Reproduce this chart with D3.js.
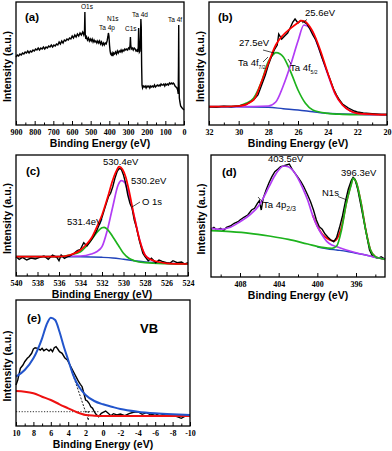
<!DOCTYPE html>
<html>
<head>
<meta charset="utf-8">
<script src="https://cdnjs.cloudflare.com/ajax/libs/d3/7.8.5/d3.min.js"></script>
<style>
body{margin:0;background:#fff;}
svg{display:block;font-family:"Liberation Sans",Arial,sans-serif;}
.frame{fill:none;stroke:#000;stroke-width:1.3;}
.axis path{display:none;}
.axis line{stroke:#000;stroke-width:1;}
.axis text{font-family:"Liberation Serif","Times New Roman",serif;font-weight:bold;font-size:8px;fill:#000;}
.xtitle,.ytitle{font-weight:bold;font-size:10.5px;text-anchor:middle;}
.plabel{font-weight:bold;font-size:11.5px;}
.note{font-size:9.5px;}
.small{font-size:6.5px;}
.vb{font-weight:bold;font-size:13px;}
.ptr{stroke:#000;stroke-width:0.7;}
.raw{fill:none;stroke:#000;stroke-width:1.4;}
.fit{fill:none;stroke:#ff0000;stroke-width:1.7;}
.green{fill:none;stroke:#1db31d;stroke-width:1.7;}
.mag{fill:none;stroke:#b23cf5;stroke-width:1.7;}
.bg{fill:none;stroke:#2244bb;stroke-width:1.4;}
.vbfit{fill:none;stroke:#2255cc;stroke-width:2;}
.vbbg{fill:none;stroke:#ee1111;stroke-width:2;}
.dots{fill:none;stroke:#333;stroke-width:1;stroke-dasharray:1.2,1.6;}
.dash{fill:none;stroke:#222;stroke-width:1;stroke-dasharray:2,1.5;}
</style>
</head>
<body>
<svg width="392" height="451"></svg>
<script>
// (a) survey
var surveyData = [
[900,68],[893,70],[886,69],[879,71],[872,70],[865,72],[858,71],[851,73],[844,72],[837,74],[830,72],[823,74],[816,73],[809,75],[802,74],[795,76],[788,75],[781,77],[774,75],[767,77],[760,76],[753,78],[746,76],[739,78],[732,77],[725,79],[718,78],[711,80],[704,78],[697,80],[690,79],[683,81],[676,80],[669,83],[662,81],[655,84],[648,82],[641,85],[634,84],[627,86],[620,85],[613,87],[606,86],[599,89],[592,87],[585,90],[578,88],[571,91],[564,89],[557,92],[550,90],[543,93],[537,90],[533,94],[531,113],[529,91],[526,86],[522,88],[517,85],[512,87],[507,84],[502,86],[497,84],[492,86],[487,83],[482,85],[477,83],[472,84],[467,82],[462,84],[457,82],[452,84],[447,81],[442,83],[437,80],[432,82],[427,80],[422,82],[417,81],[412,84],[408,88],[405,92],[402,89],[399,80],[396,74],[393,71],[389,70],[385,72],[381,69],[377,72],[372,71],[367,73],[362,71],[357,74],[352,72],[347,74],[342,73],[337,75],[332,73],[327,75],[322,74],[317,76],[312,75],[307,76],[302,75],[297,77],[292,76],[289,80],[287,88],[285,80],[282,76],[277,77],[272,75],[267,77],[262,76],[257,74],[252,75],[248,73],[245,78],[243,97],[241,80],[239,73],[236,74],[233,88],[231,106],[229,98],[227,60],[225,40],[222,37],[218,39],[213,38],[208,39],[203,37],[198,39],[193,38],[188,39],[183,37],[178,39],[173,38],[168,39],[163,38],[158,40],[153,38],[148,39],[143,40],[138,39],[133,40],[128,39],[123,41],[118,40],[113,40],[108,41],[103,39],[98,41],[93,40],[88,41],[83,40],[78,42],[73,41],[68,42],[63,41],[58,42],[53,41],[48,39],[43,38],[38,37],[34,35],[31,31],[29.5,60],[28.3,100],[27,45],[25,27],[22,23],[18,19],[14,18],[10,17],[5,16],[0,15]
];
var surveyMajor = [900,800,700,600,500,400,300,200,100,0];
var surveyMinor = [850,750,650,550,450,350,250,150,50];

// (b) Ta 4f
var ta4fRaw = [[32,18.3],[31.5,18],[31,18.7],[30.5,18.3],[30,19],[29.5,20.5],[29,25],[28.7,30],[28.5,38],[28.2,50],[28,60],[27.8,68],[27.6,75],[27.4,80],[27.3,91],[27.1,86],[26.9,89],[26.7,92],[26.5,98],[26.35,103],[26.2,106],[26,102],[25.8,104.5],[25.6,103],[25.4,101],[25.2,96],[25,90],[24.8,85],[24.6,77],[24.4,68],[24.2,60],[24,52],[23.8,44],[23.6,36],[23.4,30],[23.2,25],[23,21],[22.6,17],[22.2,14],[22,13],[21.6,12],[21.2,11.5],[20.8,11],[20.4,10.5],[20,10.5]];
var ta4fFit = [[32,18.3],[30,19],[29,25],[28.5,41.7],[28,61.7],[27.5,80],[27,90],[26.5,96.7],[26,102.3],[25.8,104.3],[25.5,103.3],[25.2,98.3],[25,93.3],[24.5,75],[24,52.3],[23.5,31.7],[23,20],[22.5,14.3],[22,11.7],[20,10.3]];
var ta4f72 = [[32,18.3],[30,19],[29.5,21.7],[29,26.7],[28.5,41.7],[28,63.3],[27.7,70],[27.5,72.3],[27.2,71],[27,68.3],[26.5,53.3],[26,35],[25.5,21.7],[25,15],[24,11.7],[23,10.7],[22,10.3],[20,10.3]];
var ta4f52 = [[32,18.3],[30,18.3],[28,19],[27.5,23],[27,39],[26.5,60],[26,84],[25.6,100],[25.2,97],[25,92],[24.5,73],[24,51],[23.5,31],[23,20],[22.5,14.3],[22,11.7],[21,10.3],[20,10.3]];
var ta4fBg = [[32,18.3],[30,18.3],[28,17.7],[27,16.3],[26,15],[25,13.3],[24,11.7],[23,11],[22,10.7],[20,10.3]];
var ta4fMajor = [32,30,28,26,24,22,20];
var ta4fMinor = [31,29,27,25,23,21];

// (c) O 1s
var o1sRaw = [[540,19.3],[539.7,16.7],[539.4,18.7],[539,16],[538.6,18],[538.2,17],[537.8,18.7],[537.4,20],[537,16.7],[536.6,21],[536.2,18.7],[536,15.3],[535.8,21],[535.5,17.7],[535.2,19.3],[535,20],[534.6,22.7],[534.3,25.3],[534,26.7],[533.7,33.3],[533.4,30],[533.1,34.3],[532.8,39.3],[532.5,45.3],[532.2,52.7],[532,58.7],[531.7,69.3],[531.4,79.3],[531.2,82.7],[531,89.3],[530.8,97.7],[530.6,104.3],[530.4,107.7],[530.2,106.7],[530,101],[529.8,92.7],[529.6,81],[529.4,72.7],[529.2,67.7],[529,56],[528.8,48.7],[528.5,34.3],[528.2,22.7],[528,19.3],[527.7,15.3],[527.4,17.7],[527,13.3],[526.7,16],[526.4,14.7],[526,13.3],[525.7,12.7],[525.4,15.3],[525,13.3],[524.6,14],[524.3,12],[524,13.3]];
var o1sFit = [[540,19.3],[536,19.3],[535,21],[534,26],[533.5,31],[533,37.7],[532.5,48.7],[532,61],[531.5,77.7],[531,96],[530.7,104.3],[530.4,109.3],[530.1,106.7],[529.8,99.3],[529.5,86],[529,59.3],[528.5,36],[528,21],[527.5,16.7],[527,14.7],[526,12.7],[524,12]];
var o1sLow = [[540,19.3],[536,19.3],[535,21],[534,24.3],[533.5,29.3],[533,36],[532.5,43.3],[532,48.3],[531.8,48.7],[531.5,46.7],[531,39.3],[530.5,31],[530,22.7],[529.5,17.7],[529,15.3],[528,13.3],[526,12.3],[524,12]];
var o1sMain = [[540,19.3],[534,20],[533,22],[532.5,24.3],[532,29.3],[531.5,46],[531,69.3],[530.5,91],[530.2,95.3],[529.9,93.7],[529.5,81],[529,59.3],[528.5,36],[528,21],[527.5,16.7],[527,14.3],[526,12.7],[524,12]];
var o1sBg = [[540,19.3],[536,19.3],[534,19.3],[532,18.7],[531,18],[530,16.7],[529,15.3],[528,14],[526,12.7],[524,12]];
var o1sMajor = [540,538,536,534,532,530,528,526,524];
var o1sMinor = [539,537,535,533,531,529,527,525];

// (d) Ta 4p / N 1s
var n1sRaw = [[411,47.7],[410.7,49.7],[410.4,47],[410,48.7],[409.7,46.3],[409.4,49.7],[409,51],[408.6,53.7],[408.2,55.3],[408,57],[407.6,59.7],[407.2,62],[406.8,67],[406.5,68.7],[406.2,73.7],[406,76.3],[405.8,67],[405.6,78.7],[405.3,87],[405,94.3],[404.7,100.3],[404.4,105.3],[404.1,107.7],[403.8,110.3],[403.5,111],[403.2,112],[402.9,113],[402.6,107.7],[402.3,103.7],[402,99.7],[401.7,95.3],[401.4,90.3],[401,82],[400.7,75.3],[400.4,67],[400.1,57],[399.8,50.3],[399.5,47.7],[399.2,43],[398.9,39.7],[398.6,37],[398.3,35.3],[398,39.7],[397.7,49.7],[397.4,61],[397.1,75.3],[396.8,87.7],[396.5,96.3],[396.3,99.7],[396.1,97.7],[395.8,87],[395.5,72],[395.2,57],[394.9,42],[394.6,27],[394.3,21],[394,19.7],[393.7,18.7],[393.4,20.3],[393.1,18.3],[393,17.7]];
var n1sFit = [[400.5,62],[400,51],[399.5,43],[399,38.7],[398.5,36.3],[398.2,36],[398,37.7],[397.7,43.7],[397.5,49.7],[397,73.7],[396.5,93],[396.3,98.7],[396,95.3],[395.5,75.3],[395,47.7],[394.5,27],[394,20.3],[393.5,18.7],[393,17.7]];
var n1sPeak = [[411,46.3],[409,45.3],[407,43.7],[405,41],[403,37.7],[401,33],[399.5,29.7],[398.5,28.7],[398,31],[397.5,47],[397,73.7],[396.5,92],[396.3,98.7],[396,95.3],[395.5,75.3],[395,47],[394.5,27],[394,20.3],[393.5,18.7],[393,17.7]];
var ta4pPeak = [[411,48.7],[410,47.7],[409,49.7],[408,55.3],[407,62],[406,72],[405,90.3],[404.5,99.7],[404,107],[403.5,111],[403,110.3],[402.5,106.3],[402,98.7],[401.5,88.7],[401,77],[400.5,62],[400,50.3],[399.5,42],[399,35.3],[398.5,32],[398,30.3],[397,27],[396,24.3],[395,22],[394,19.7],[393,17.7]];
var n1sBg = [[400,30],[399,28.3],[398,27],[397,25.7],[396,23.7],[395,22],[394,19.7],[393,18]];
var n1sMajor = [408,404,400,396];
var n1sMinor = [410,406,402,398,394];

// (e) valence band
var vbRaw = [[10,41],[9.8,46],[9.5,57.7],[9.2,61],[9,64.3],[8.7,67.7],[8.5,69.3],[8.2,72.7],[8,77],[7.8,78.3],[7.5,77.7],[7.2,76],[7,77.7],[6.8,75.3],[6.5,77],[6.2,75],[6,76.7],[5.8,74.3],[5.6,78.3],[5.4,79.3],[5.2,77],[5,74.3],[4.7,72.7],[4.4,68.3],[4.1,66],[3.8,61],[3.5,56],[3.2,51],[3,47.7],[2.8,44.3],[2.6,41.7],[2.4,39.3],[2.2,32.7],[2,26],[1.8,25],[1.6,22.7],[1.4,19.3],[1.2,17.7],[1,14.3],[0.8,11.7],[0.5,9.3],[0.2,12.7],[0,13.7],[-0.3,15],[-0.6,12.7],[-0.9,10.3],[-1.2,12.3],[-1.6,11],[-2,12],[-2.5,10.3],[-3,12.3],[-3.5,13.7],[-4,14.3],[-4.5,11.7],[-5,13.3],[-5.5,11],[-6,12.3],[-6.5,10.3],[-7,11.7],[-7.5,9.7],[-8,11],[-8.5,9.3],[-9,7.7],[-9.5,10],[-10,10]];
var vbFit = [[10,49.3],[9,56],[8,67.7],[7,87.7],[6.5,101],[6,108.3],[5.5,106],[5,94.3],[4.5,79.3],[4,66],[3.5,52.7],[3,42.7],[2.5,36],[2,31],[1,25],[0,21.7],[-1,19.3],[-2,17],[-4,14.3],[-6,12.7],[-8,11.7],[-10,11]];
var vbBg = [[10,35],[9,34.3],[8,32.7],[7,29.3],[6,26],[5,21.7],[4,17.7],[3,13.7],[2,11],[1,10.3],[0,10],[-10,10]];
var vbBaseLine = [[10,14.3],[0.34,14.3]];
var vbEdgeLine = [[3.98,65],[1.69,6]];
var vbOnsetLine = [[1.69,15],[1.69,5]];
var vbMajor = [10,8,6,4,2,0,-2,-4,-6,-8,-10];
var vbMinor = [9,7,5,3,1,-1,-3,-5,-7,-9];

var svg = d3.select('svg');

function drawPanel(p) {
  var w = p.x1 - p.x0, h = p.y1 - p.y0;
  var g = svg.append('g').attr('transform', 'translate(' + p.x0 + ',' + p.y0 + ')');
  var x = d3.scaleLinear().domain(p.xDomain).range([0, w]);
  var y = d3.scaleLinear().domain([0, h]).range([h, 0]);

  g.append('g').attr('class', 'axis')
    .attr('transform', 'translate(0,' + h + ')')
    .call(d3.axisBottom(x).tickValues(p.minor).tickSize(-2.5).tickFormat(''));
  g.append('g').attr('class', 'axis')
    .attr('transform', 'translate(0,' + h + ')')
    .call(d3.axisBottom(x).tickValues(p.major).tickSize(-4).tickPadding(4.3)
      .tickFormat(function(d){ return String(d); }));

  var rawLine = d3.line().x(function(d){return x(d[0]);}).y(function(d){return y(d[1]);});
  var smooth = d3.line().curve(d3.curveMonotoneX).x(function(d){return x(d[0]);}).y(function(d){return y(d[1]);});

  p.series.forEach(function(s) {
    g.append('path').datum(s.data).attr('class', s.cls)
      .attr('d', s.smooth ? smooth : rawLine);
  });

  g.append('rect').attr('class', 'frame').attr('width', w).attr('height', h);

  svg.append('text').attr('class', 'xtitle')
    .attr('x', p.x0 + w / 2).attr('y', p.y1 + 21.5).text('Binding Energy (eV)');
  svg.append('text').attr('class', 'ytitle')
    .attr('transform', 'translate(' + p.yx + ',' + (p.y0 + h / 2 + 3) + ') rotate(-90)')
    .text('Intensity (a.u.)');

  p.notes.forEach(function(n) {
    var t = svg.append('text').attr('class', n.cls).attr('x', n.x).attr('y', n.y).text(n.t);
    if (n.sub) t.append('tspan').attr('font-size', n.subSize || '6.5px').attr('dy', 2.5).text(n.sub);
  });
  (p.ptrs || []).forEach(function(l) {
    svg.append('line').attr('class', 'ptr')
      .attr('x1', l[0]).attr('y1', l[1]).attr('x2', l[2]).attr('y2', l[3]);
  });
}

drawPanel({
  x0: 16, y0: 2, x1: 184, y1: 125, xDomain: [900, 0], yx: 10.5,
  major: surveyMajor, minor: surveyMinor,
  series: [{data: surveyData, cls: 'raw'}],
  notes: [
    {x: 25, y: 21, t: '(a)', cls: 'plabel'},
    {x: 81, y: 8.5, t: 'O1s', cls: 'small'},
    {x: 107, y: 20.5, t: 'N1s', cls: 'small'},
    {x: 99, y: 30, t: 'Ta 4p', cls: 'small'},
    {x: 125, y: 30.5, t: 'C1s', cls: 'small'},
    {x: 132, y: 16.5, t: 'Ta 4d', cls: 'small'},
    {x: 168, y: 22, t: 'Ta 4f', cls: 'small'}
  ]
});

drawPanel({
  x0: 209, y0: 2, x1: 387, y1: 125, xDomain: [32, 20], yx: 204,
  major: ta4fMajor, minor: ta4fMinor,
  series: [
    {data: ta4fBg, cls: 'bg', smooth: true},
    {data: ta4f72, cls: 'green', smooth: true},
    {data: ta4f52, cls: 'mag', smooth: true},
    {data: ta4fRaw, cls: 'raw'},
    {data: ta4fFit, cls: 'fit', smooth: true}
  ],
  notes: [
    {x: 218, y: 21, t: '(b)', cls: 'plabel'},
    {x: 305, y: 16, t: '25.6eV', cls: 'note'},
    {x: 239, y: 46, t: '27.5eV', cls: 'note'},
    {x: 238, y: 66, t: 'Ta 4f', cls: 'note', sub: '7/2', subSize: '5px'},
    {x: 290, y: 71, t: 'Ta 4f', cls: 'note', sub: '5/2', subSize: '5px'}
  ],
  ptrs: [[307, 19.5, 302, 23], [263, 50, 274, 53], [263, 62, 268, 57], [291, 64, 288, 59]]
});

drawPanel({
  x0: 16, y0: 155, x1: 188, y1: 276, xDomain: [540, 524], yx: 10.5,
  major: o1sMajor, minor: o1sMinor,
  series: [
    {data: o1sBg, cls: 'bg', smooth: true},
    {data: o1sMain, cls: 'mag', smooth: true},
    {data: o1sLow, cls: 'green', smooth: true},
    {data: o1sRaw, cls: 'raw'},
    {data: o1sFit, cls: 'fit', smooth: true}
  ],
  notes: [
    {x: 26, y: 175, t: '(c)', cls: 'plabel'},
    {x: 103, y: 165, t: '530.4eV', cls: 'note'},
    {x: 131, y: 184, t: '530.2eV', cls: 'note'},
    {x: 142, y: 205, t: 'O 1s', cls: 'note'},
    {x: 67, y: 225, t: '531.4eV', cls: 'note'}
  ],
  ptrs: [[132, 207, 140, 202]]
});

drawPanel({
  x0: 211, y0: 155, x1: 385, y1: 277, xDomain: [411, 393], yx: 205,
  major: n1sMajor, minor: n1sMinor,
  series: [
    {data: n1sBg, cls: 'bg', smooth: true},
    {data: n1sFit, cls: 'fit', smooth: true},
    {data: n1sRaw, cls: 'raw'},
    {data: ta4pPeak, cls: 'mag', smooth: true},
    {data: n1sPeak, cls: 'green', smooth: true}
  ],
  notes: [
    {x: 222, y: 176, t: '(d)', cls: 'plabel'},
    {x: 268, y: 162, t: '403.5eV', cls: 'note'},
    {x: 341, y: 176, t: '396.3eV', cls: 'note'},
    {x: 322, y: 196, t: 'N1s', cls: 'note'},
    {x: 263, y: 208, t: 'Ta 4p', cls: 'note', sub: '2/3', subSize: '7px'}
  ],
  ptrs: [[338, 196.5, 347, 200], [263, 202.5, 258, 197]]
});

drawPanel({
  x0: 16, y0: 300, x1: 190, y1: 426, xDomain: [10, -10], yx: 10.5,
  major: vbMajor, minor: vbMinor,
  series: [
    {data: vbBaseLine, cls: 'dots'},
    {data: vbEdgeLine, cls: 'dash'},
    {data: vbOnsetLine, cls: 'dash'},
    {data: vbRaw, cls: 'raw'},
    {data: vbBg, cls: 'vbbg', smooth: true},
    {data: vbFit, cls: 'vbfit', smooth: true}
  ],
  notes: [
    {x: 27, y: 322, t: '(e)', cls: 'plabel'},
    {x: 140, y: 333, t: 'VB', cls: 'vb'}
  ]
});
</script>
</body>
</html>
